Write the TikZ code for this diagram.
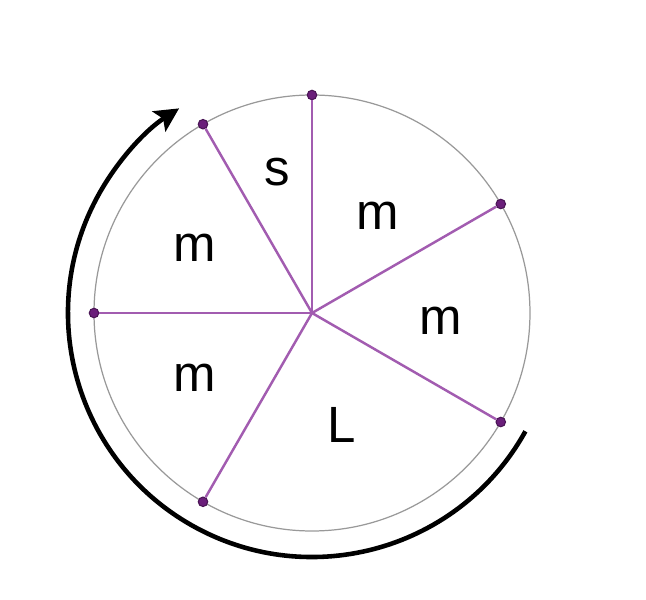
\documentclass[tikz,border=0pt]{standalone}
\usepackage{fontspec}
\setmainfont{Liberation Sans}
\usetikzlibrary{arrows.meta}
\definecolor{spoke}{HTML}{A25CB0}
\definecolor{dotpurple}{HTML}{6A1E7A}
\tikzset{
  dot/.style={circle,fill=dotpurple,draw=dotpurple!70!black,line width=0.3pt,inner sep=0pt,minimum size=0.095cm},
  part/.style={font=\fontsize{14.5}{16}\selectfont}
}
\begin{document}
\begin{tikzpicture}
      \useasboundingbox (-3.12,-2.87) rectangle (3.34,3.13);
      \draw[gray!80,line width=0.35pt] (0,0) circle (2.18);
      \coordinate (c) at (0,0);
      \draw
        (90:2.18) node[dot] (0){}
        (30:2.18) node[dot] (1){}
        (-30:2.18) node[dot] (2){}
        (240:2.18) node[dot] (3){}
        (180:2.18) node[dot] (4){}
        (120:2.18) node[dot] (5){};
      \begin{scope}[spoke,line width=0.7pt]
        \draw (c) to (0);
        \draw (c) to (1);
        \draw (c) to (2);
        \draw (c) to (3);
        \draw (c) to (4);
        \draw (c) to (5);
      \end{scope}
      \node[part] (s) at (104:1.45) {s};
      \node[part] (m1) at (56:1.17) {m};
      \node[part] (m2) at (-3.5:1.29) {m};
      \node[part] (L) at (-75:1.16) {L};
      \node[part] (m3) at (209:1.34) {m};
      \node[part] (m4) at (151:1.34) {m};
      \coordinate (start) at (-29:2.44);
      \draw[line width=1.3pt,-{Stealth[length=0.24cm,width=0.24cm,inset=0.05cm]}]
        (start) arc (-29:-237:2.44);
    \end{tikzpicture}
\end{document}
